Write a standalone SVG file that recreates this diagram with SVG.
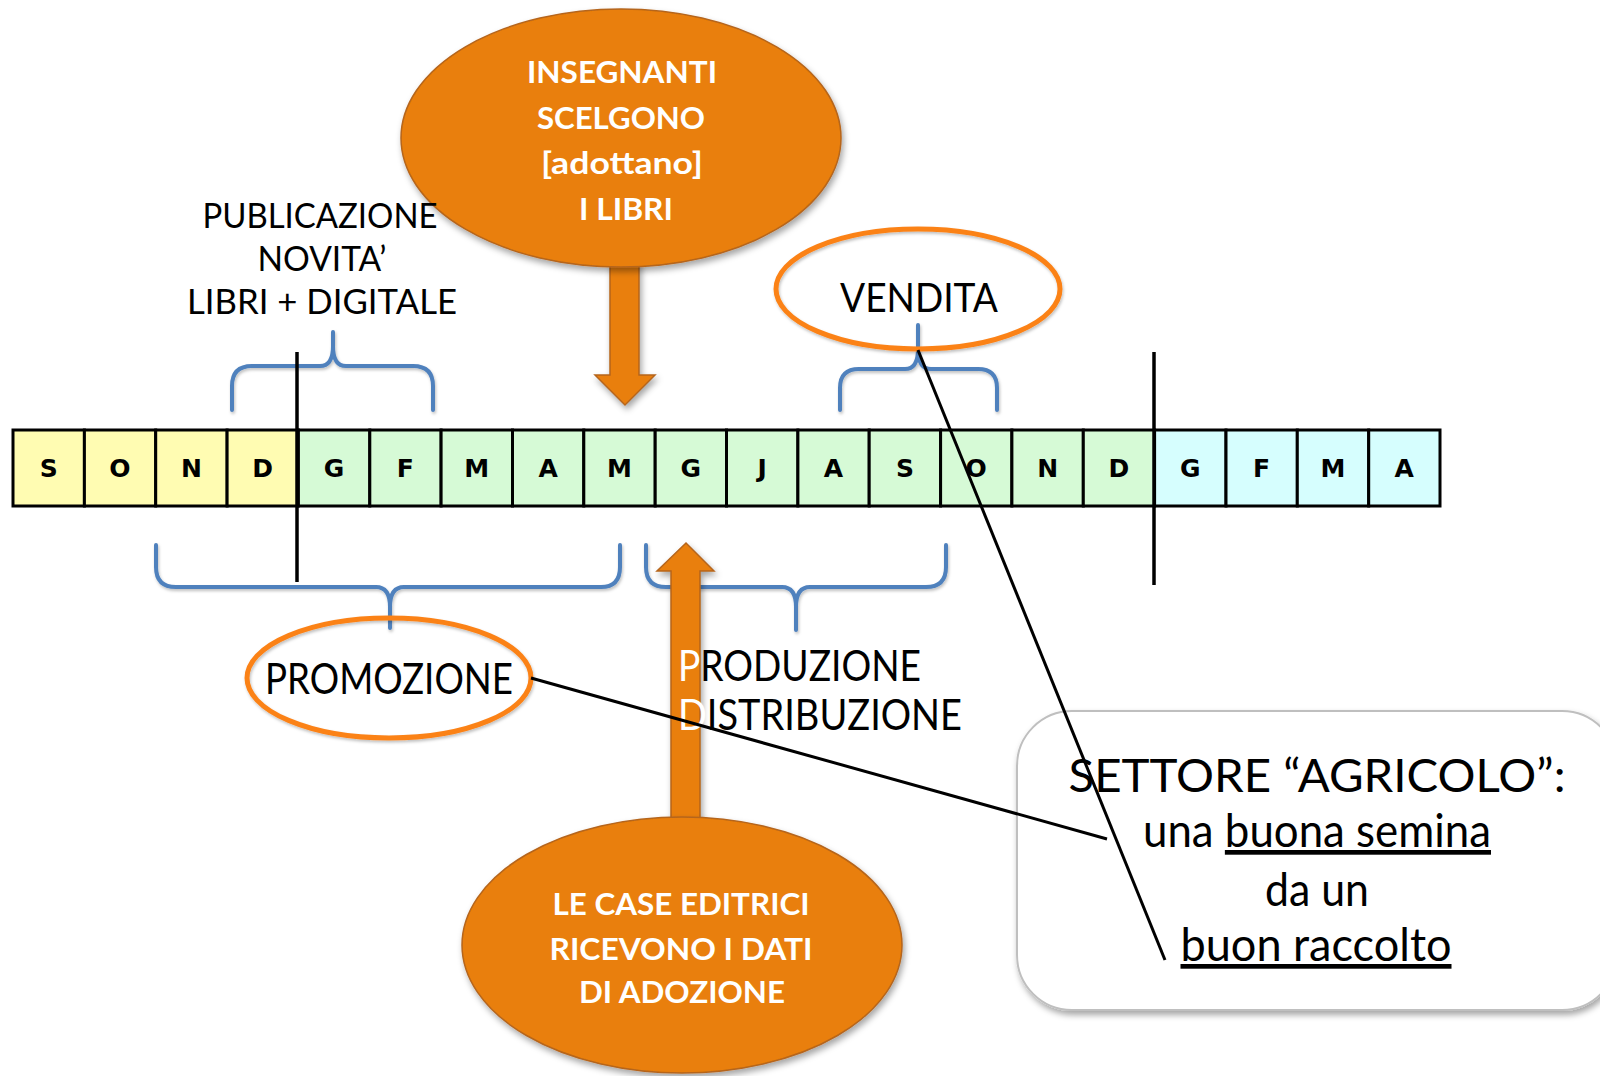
<svg xmlns="http://www.w3.org/2000/svg" width="1600" height="1076" viewBox="0 0 1600 1076">
<defs>
<filter id="sh" x="-20%" y="-20%" width="140%" height="150%">
<feDropShadow dx="2" dy="4" stdDeviation="3" flood-color="#000" flood-opacity="0.35"/>
</filter>
<filter id="shs" x="-20%" y="-20%" width="140%" height="150%">
<feDropShadow dx="1" dy="2" stdDeviation="1.5" flood-color="#000" flood-opacity="0.25"/>
</filter>
<style>
.cell{stroke:#000;stroke-width:3}
.y{fill:#FFFCB2}.g{fill:#D6FAD6}.c{fill:#D6FEFE}
.m{font-family:"DejaVu Sans",sans-serif;font-weight:bold;font-size:25px;text-anchor:middle;fill:#000}
.brace{fill:none;stroke:#4F81BD;stroke-width:4;stroke-linecap:round;stroke-linejoin:round}
.vl{stroke:#000;stroke-width:3.5}
.big{fill:#E97F07;stroke:#B5651D;stroke-width:1.5}
.wt{font-family:Lato,"Open Sans",sans-serif;font-weight:bold;fill:#fff;text-anchor:middle;font-size:30px}
.ring{fill:none;stroke:#FB8219;stroke-width:5}
.lb{font-family:Lato,"Noto Sans",sans-serif;fill:#000;text-anchor:middle}
.lbl{font-family:Lato,"Noto Sans",sans-serif;fill:#000}
.conn{stroke:#000;stroke-width:3;fill:none}
</style>
</defs>
<rect width="1600" height="1076" fill="#fff"/>

<g id="brace-pub"><path class="brace" filter="url(#shs)" d="M232,410 V386 Q232,366 252,366 H320 Q333,366 333,346 V332 M333,346 Q333,366 346,366 H413 Q433,366 433,386 V410"/></g>
<g id="brace-vendita"><path class="brace" filter="url(#shs)" d="M840,410 V388 Q840,369 859,369 H905 Q918,369 918,349 V325 M918,349 Q918,369 931,369 H978 Q997,369 997,388 V410"/></g>
<g id="brace-promozione"><path class="brace" filter="url(#shs)" d="M156,545 V567 Q156,587 176,587 H376 Q390,587 390,607 V628 M390,607 Q390,587 404,587 H601 Q620,587 620,567 V545"/></g>
<g id="brace-produzione"><path class="brace" filter="url(#shs)" d="M646,545 V567 Q646,587 666,587 H782 Q796,587 796,607 V630 M796,607 Q796,587 810,587 H926 Q946,587 946,567 V545"/></g>

<g id="timeline">
<g id="c0"><rect class="cell y" x="13" y="430" width="71.4" height="76"/><text class="m" x="48.7" y="477">S</text></g>
<g id="c1"><rect class="cell y" x="84.4" y="430" width="71.3" height="76"/><text class="m" x="120" y="477">O</text></g>
<g id="c2"><rect class="cell y" x="155.7" y="430" width="71.4" height="76"/><text class="m" x="191.4" y="477">N</text></g>
<g id="c3"><rect class="cell y" x="227.1" y="430" width="71.3" height="76"/><text class="m" x="262.7" y="477">D</text></g>
<g id="c4"><rect class="cell g" x="298.4" y="430" width="71.4" height="76"/><text class="m" x="334.1" y="477">G</text></g>
<g id="c5"><rect class="cell g" x="369.8" y="430" width="71.3" height="76"/><text class="m" x="405.4" y="477">F</text></g>
<g id="c6"><rect class="cell g" x="441.1" y="430" width="71.4" height="76"/><text class="m" x="476.8" y="477">M</text></g>
<g id="c7"><rect class="cell g" x="512.5" y="430" width="71.3" height="76"/><text class="m" x="548.1" y="477">A</text></g>
<g id="c8"><rect class="cell g" x="583.8" y="430" width="71.4" height="76"/><text class="m" x="619.5" y="477">M</text></g>
<g id="c9"><rect class="cell g" x="655.2" y="430" width="71.3" height="76"/><text class="m" x="690.8" y="477">G</text></g>
<g id="c10"><rect class="cell g" x="726.5" y="430" width="71.4" height="76"/><text class="m" x="762.2" y="477">J</text></g>
<g id="c11"><rect class="cell g" x="797.9" y="430" width="71.3" height="76"/><text class="m" x="833.5" y="477">A</text></g>
<g id="c12"><rect class="cell g" x="869.2" y="430" width="71.4" height="76"/><text class="m" x="904.9" y="477">S</text></g>
<g id="c13"><rect class="cell g" x="940.6" y="430" width="71.3" height="76"/><text class="m" x="976.2" y="477">O</text></g>
<g id="c14"><rect class="cell g" x="1011.9" y="430" width="71.4" height="76"/><text class="m" x="1047.6" y="477">N</text></g>
<g id="c15"><rect class="cell g" x="1083.3" y="430" width="71.3" height="76"/><text class="m" x="1118.9" y="477">D</text></g>
<g id="c16"><rect class="cell c" x="1154.6" y="430" width="71.4" height="76"/><text class="m" x="1190.3" y="477">G</text></g>
<g id="c17"><rect class="cell c" x="1226" y="430" width="71.3" height="76"/><text class="m" x="1261.6" y="477">F</text></g>
<g id="c18"><rect class="cell c" x="1297.3" y="430" width="71.4" height="76"/><text class="m" x="1333" y="477">M</text></g>
<g id="c19"><rect class="cell c" x="1368.7" y="430" width="71.3" height="76"/><text class="m" x="1404.3" y="477">A</text></g>
</g>

<g id="year-dividers">
<line class="vl" x1="297" y1="352" x2="297" y2="582"/>
<line class="vl" x1="1154" y1="352" x2="1154" y2="585"/>
</g>

<g id="arrow-down"><polygon class="big" filter="url(#sh)" points="610,250 639,250 639,375 655,375 625,405 595,375 610,375"/></g>
<g id="arrow-up"><polygon class="big" filter="url(#sh)" points="686,543 714,571 700,571 700,840 671,840 671,571 657,571"/></g>

<g id="insegnanti">
<ellipse class="big" filter="url(#sh)" cx="621" cy="138" rx="220" ry="129"/>
<text class="wt" x="622" y="83" textLength="190" lengthAdjust="spacingAndGlyphs">INSEGNANTI</text>
<text class="wt" x="621" y="129" textLength="168" lengthAdjust="spacingAndGlyphs">SCELGONO</text>
<text class="wt" x="622" y="174" textLength="162" lengthAdjust="spacingAndGlyphs">[adottano]</text>
<text class="wt" x="626" y="220" textLength="94" lengthAdjust="spacingAndGlyphs">I LIBRI</text>
</g>

<g id="case-editrici">
<ellipse class="big" filter="url(#sh)" cx="682" cy="945" rx="220" ry="128"/>
<text class="wt" x="681" y="915" textLength="257" lengthAdjust="spacingAndGlyphs">LE CASE EDITRICI</text>
<text class="wt" x="681" y="960" textLength="263" lengthAdjust="spacingAndGlyphs">RICEVONO I DATI</text>
<text class="wt" x="682" y="1003" textLength="206" lengthAdjust="spacingAndGlyphs">DI ADOZIONE</text>
</g>

<g id="pubblicazione">
<text class="lb" font-size="34" x="320" y="228" textLength="235" lengthAdjust="spacingAndGlyphs">PUBLICAZIONE</text>
<text class="lb" font-size="34" x="322" y="271" textLength="129" lengthAdjust="spacingAndGlyphs">NOVITA’</text>
<text class="lb" font-size="34" x="322" y="314" textLength="270" lengthAdjust="spacingAndGlyphs">LIBRI + DIGITALE</text>
</g>

<g id="vendita">
<ellipse class="ring" filter="url(#shs)" cx="918" cy="289" rx="142" ry="60"/>
<text class="lb" font-size="41" x="919" y="312" textLength="158" lengthAdjust="spacingAndGlyphs">VENDITA</text>
</g>

<g id="promozione">
<ellipse class="ring" filter="url(#shs)" cx="389" cy="678" rx="142" ry="60"/>
<text class="lb" font-size="43" x="389" y="694" textLength="248" lengthAdjust="spacingAndGlyphs">PROMOZIONE</text>
</g>

<g id="produzione">
<text class="lbl" font-size="42" x="678" y="681" textLength="243" lengthAdjust="spacingAndGlyphs"><tspan fill="#fff">P</tspan>RODUZIONE</text>
<text class="lbl" font-size="42" x="678" y="730" textLength="284" lengthAdjust="spacingAndGlyphs"><tspan fill="#fff">D</tspan>ISTRIBUZIONE</text>
</g>

<g id="settore">
<rect x="1017" y="711" width="600" height="299" rx="55" ry="55" fill="#fff" stroke="#BFBFBF" stroke-width="2" filter="url(#sh)"/>
<text class="lb" font-size="47" x="1317" y="792" textLength="497" lengthAdjust="spacingAndGlyphs">SETTORE “AGRICOLO”:</text>
<text class="lb" font-size="47" x="1317" y="847" textLength="348" lengthAdjust="spacingAndGlyphs">una <tspan text-decoration="underline">buona semina</tspan></text>
<text class="lb" font-size="47" x="1317" y="906" textLength="104" lengthAdjust="spacingAndGlyphs">da un</text>
<text class="lb" font-size="47" x="1316" y="961" textLength="271" lengthAdjust="spacingAndGlyphs" text-decoration="underline">buon raccolto</text>
</g>

<g id="connectors">
<line class="conn" x1="918" y1="350" x2="1165" y2="960"/>
<line class="conn" x1="531" y1="678" x2="1107" y2="839"/>
</g>
</svg>
